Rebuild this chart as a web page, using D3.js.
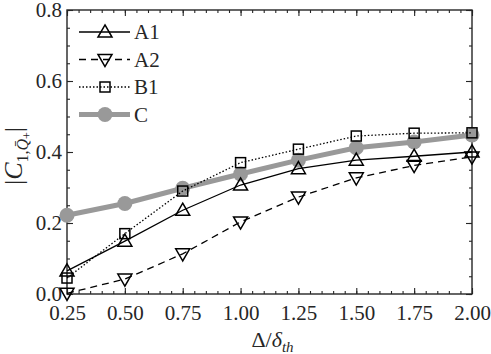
<!DOCTYPE html>
<html>
<head>
<meta charset="utf-8">
<script src="https://cdn.jsdelivr.net/npm/d3@7"></script>
<style>
  body { margin: 0; background: #fff; }
  svg text { font-family: "Liberation Serif", "DejaVu Serif", serif; fill: #262626; }
</style>
</head>
<body>
<div id="chart"></div>
<script>
// data
var deltas = [0.25, 0.50, 0.75, 1.00, 1.25, 1.50, 1.75, 2.00];
var a1 = [0.065, 0.149, 0.236, 0.307, 0.353, 0.377, 0.388, 0.400];
var a2 = [0.002, 0.042, 0.113, 0.203, 0.273, 0.327, 0.362, 0.386];
var b1 = [0.045, 0.170, 0.290, 0.370, 0.408, 0.445, 0.453, 0.454];
var c  = [0.222, 0.255, 0.298, 0.338, 0.377, 0.412, 0.428, 0.448];
var xTicks = [0.25, 0.50, 0.75, 1.00, 1.25, 1.50, 1.75, 2.00];
var yTicks = [0, 0.2, 0.4, 0.6, 0.8];
var seriesNames = ["A1", "A2", "B1", "C"];

var W = 491, H = 354;
var margin = {top: 10, right: 19, bottom: 60, left: 67},
    width = W - margin.left - margin.right,
    height = H - margin.top - margin.bottom;

var axCol = "#262626";

var svg = d3.select("#chart").append("svg")
    .attr("width", W).attr("height", H)
  .append("g")
    .attr("transform", "translate(" + margin.left + "," + margin.top + ")");

var x = d3.scaleLinear().domain([0.25, 2.0]).range([0, width]);
var y = d3.scaleLinear().domain([0, 0.8]).range([height, 0]);

// minor ticks every 0.05 on both axes
var xMinor = d3.range(0.25, 2.0001, 0.05);
var yMinor = d3.range(0, 0.8001, 0.05);

function styleAxis(g) {
  g.select(".domain").remove();
  g.selectAll("line").attr("stroke", axCol).attr("stroke-width", 1.1);
  g.selectAll("text").style("font-size", "21px").attr("fill", axCol);
}

// minor ticks (bottom, top, left, right)
svg.append("g").attr("transform", "translate(0," + height + ")")
  .call(d3.axisBottom(x).tickValues(xMinor).tickSize(-3).tickFormat("")).call(styleAxis);
svg.append("g")
  .call(d3.axisTop(x).tickValues(xMinor).tickSize(-3).tickFormat("")).call(styleAxis);
svg.append("g")
  .call(d3.axisLeft(y).tickValues(yMinor).tickSize(-3).tickFormat("")).call(styleAxis);
svg.append("g").attr("transform", "translate(" + width + ",0)")
  .call(d3.axisRight(y).tickValues(yMinor).tickSize(-3).tickFormat("")).call(styleAxis);

// major ticks with labels
svg.append("g").attr("transform", "translate(0," + height + ")")
  .call(d3.axisBottom(x).tickValues(xTicks).tickSize(-6).tickPadding(11).tickFormat(d3.format(".2f")))
  .call(styleAxis);
svg.append("g")
  .call(d3.axisTop(x).tickValues(xTicks).tickSize(-6).tickFormat("")).call(styleAxis);
svg.append("g")
  .call(d3.axisLeft(y).tickValues(yTicks).tickSize(-6).tickPadding(5).tickFormat(d3.format(".1f")))
  .call(styleAxis);
svg.append("g").attr("transform", "translate(" + width + ",0)")
  .call(d3.axisRight(y).tickValues(yTicks).tickSize(-6).tickFormat("")).call(styleAxis);

// box
svg.append("rect")
  .attr("width", width).attr("height", height)
  .attr("fill", "none").attr("stroke", axCol).attr("stroke-width", 1.4);

// marker helpers
var triUp = d3.symbol().type(d3.symbolTriangle).size(85);
function drawMarker(g, kind, px, py) {
  if (kind == "up") {
    g.append("path").attr("d", triUp()).attr("transform", "translate(" + px + "," + (py + 1) + ")")
      .attr("fill", "none").attr("stroke", "#000").attr("stroke-width", 1.5);
  } else if (kind == "down") {
    g.append("path").attr("d", triUp()).attr("transform", "translate(" + px + "," + (py - 1) + ") rotate(180)")
      .attr("fill", "none").attr("stroke", "#000").attr("stroke-width", 1.5);
  } else if (kind == "sq") {
    g.append("rect").attr("x", px - 5).attr("y", py - 5).attr("width", 10).attr("height", 10)
      .attr("fill", "none").attr("stroke", "#000").attr("stroke-width", 1.5);
  } else {
    g.append("circle").attr("cx", px).attr("cy", py).attr("r", 7.5).attr("fill", "#999999");
  }
}

var series = [
  {name: seriesNames[0], vals: a1, kind: "up",   color: "#000", w: 1.3, dash: null},
  {name: seriesNames[1], vals: a2, kind: "down", color: "#000", w: 1.3, dash: "7,5"},
  {name: seriesNames[2], vals: b1, kind: "sq",   color: "#000", w: 1.3, dash: "1.5,2"},
  {name: seriesNames[3], vals: c,  kind: "circ", color: "#999999", w: 5, dash: null}
];

var line = d3.line()
  .x(function(d) { return x(d[0]); })
  .y(function(d) { return y(d[1]); });

// draw C first so black lines sit on top
var order = [3, 1, 0, 2];
order.forEach(function(i) {
  var s = series[i];
  var pts = deltas.map(function(d, j) { return [d, s.vals[j]]; });
  var g = svg.append("g");
  g.append("path").attr("d", line(pts))
    .attr("fill", "none").attr("stroke", s.color).attr("stroke-width", s.w)
    .attr("stroke-dasharray", s.dash);
  pts.forEach(function(p) { drawMarker(g, s.kind, x(p[0]), y(p[1])); });
});

// legend
var leg = svg.append("g").attr("transform", "translate(12,22)");
series.forEach(function(s, i) {
  var ly = i * 27.5;
  var g = leg.append("g");
  g.append("line").attr("x1", 0).attr("x2", 51).attr("y1", ly).attr("y2", ly)
    .attr("stroke", s.color).attr("stroke-width", s.w).attr("stroke-dasharray", s.dash);
  drawMarker(g, s.kind, 26, ly);
  g.append("text").attr("x", 55).attr("y", ly + 7).style("font-size", "21px").text(s.name);
});

// x label
svg.append("text")
  .attr("x", width / 2 + 3).attr("y", height + 53)
  .style("text-anchor", "middle").style("font-size", "22px")
  .html('Δ/<tspan font-style="italic">δ</tspan><tspan font-style="italic" font-size="15px" dy="5">th</tspan>');

// y label
svg.append("text")
  .attr("transform", "translate(" + (-45) + "," + (height / 2 + 4) + ") rotate(-90)")
  .style("text-anchor", "middle").style("font-size", "26px")
  .html('|<tspan font-style="italic">C</tspan><tspan font-size="16px" dy="6">1,</tspan><tspan font-style="italic" font-size="16px">Q̄</tspan><tspan font-size="12px" dy="3">+</tspan><tspan dy="-9">|</tspan>');
</script>
</body>
</html>
